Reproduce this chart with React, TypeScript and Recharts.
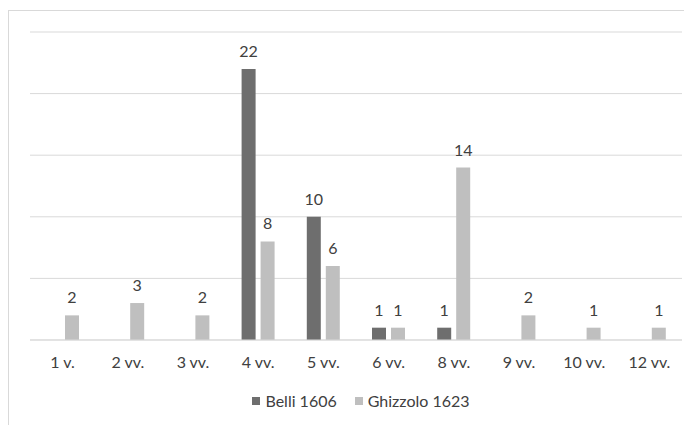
import { Bar, BarChart, CartesianGrid, LabelList, Legend, XAxis, YAxis } from 'recharts'

const categories = ['1 v.', '2 vv.', '3 vv.', '4 vv.', '5 vv.', '6 vv.', '8 vv.', '9 vv.', '10 vv.', '12 vv.']
const belli = [null, null, null, 22, 10, 1, 1, null, null, null]
const ghizzolo = [2, 3, 2, 8, 6, 1, 14, 2, 1, 1]
const yTicks = [0, 5, 10, 15, 20, 25]

const data = categories.map((name, i) => ({
  name,
  belli: belli[i],
  ghizzolo: ghizzolo[i],
}))

const font = 'Lato, "Open Sans", sans-serif'

function LegendContent() {
  const items = [
    { label: 'Belli 1606', color: '#6e6e6e' },
    { label: 'Ghizzolo 1623', color: '#bfbfbf' },
  ]
  return (
    <div style={{ display: 'flex', justifyContent: 'center', gap: 18, fontFamily: font, fontSize: 16, color: '#404040', paddingTop: 11, paddingLeft: 10 }}>
      {items.map((it) => (
        <span key={it.label} style={{ display: 'flex', alignItems: 'center', gap: 5 }}>
          <span style={{ width: 8, height: 8, background: it.color, display: 'inline-block' }} />
          {it.label}
        </span>
      ))}
    </div>
  )
}

export default function App() {
  return (
    <div
      style={{
        marginTop: 2,
        width: 683,
        height: 414,
        borderTop: '1px solid #d9d9d9',
        borderLeft: '1px solid #d9d9d9',
        background: '#fff',
        overflow: 'hidden',
      }}
    >
      <BarChart
        width={683}
        height={414}
        data={data}
        margin={{ top: 21, right: 10, left: 21, bottom: 10 }}
        barSize={14}
        barGap={5}
      >
        <CartesianGrid vertical={false} stroke="#d9d9d9" />
        <XAxis
          dataKey="name"
          axisLine={{ stroke: '#d9d9d9' }}
          tickLine={false}
          height={40}
          tickMargin={11}
          tick={{ fill: '#404040', fontSize: 16, fontFamily: font }}
        />
        <YAxis hide domain={[0, 25]} ticks={yTicks} />
        <Legend verticalAlign="bottom" height={35} content={<LegendContent />} />
        <Bar dataKey="belli" fill="#6e6e6e" isAnimationActive={false}>
          <LabelList dataKey="belli" position="top" offset={12} fill="#404040" fontSize={16} fontFamily={font} />
        </Bar>
        <Bar dataKey="ghizzolo" fill="#bfbfbf" isAnimationActive={false}>
          <LabelList dataKey="ghizzolo" position="top" offset={12} fill="#404040" fontSize={16} fontFamily={font} />
        </Bar>
      </BarChart>
    </div>
  )
}
